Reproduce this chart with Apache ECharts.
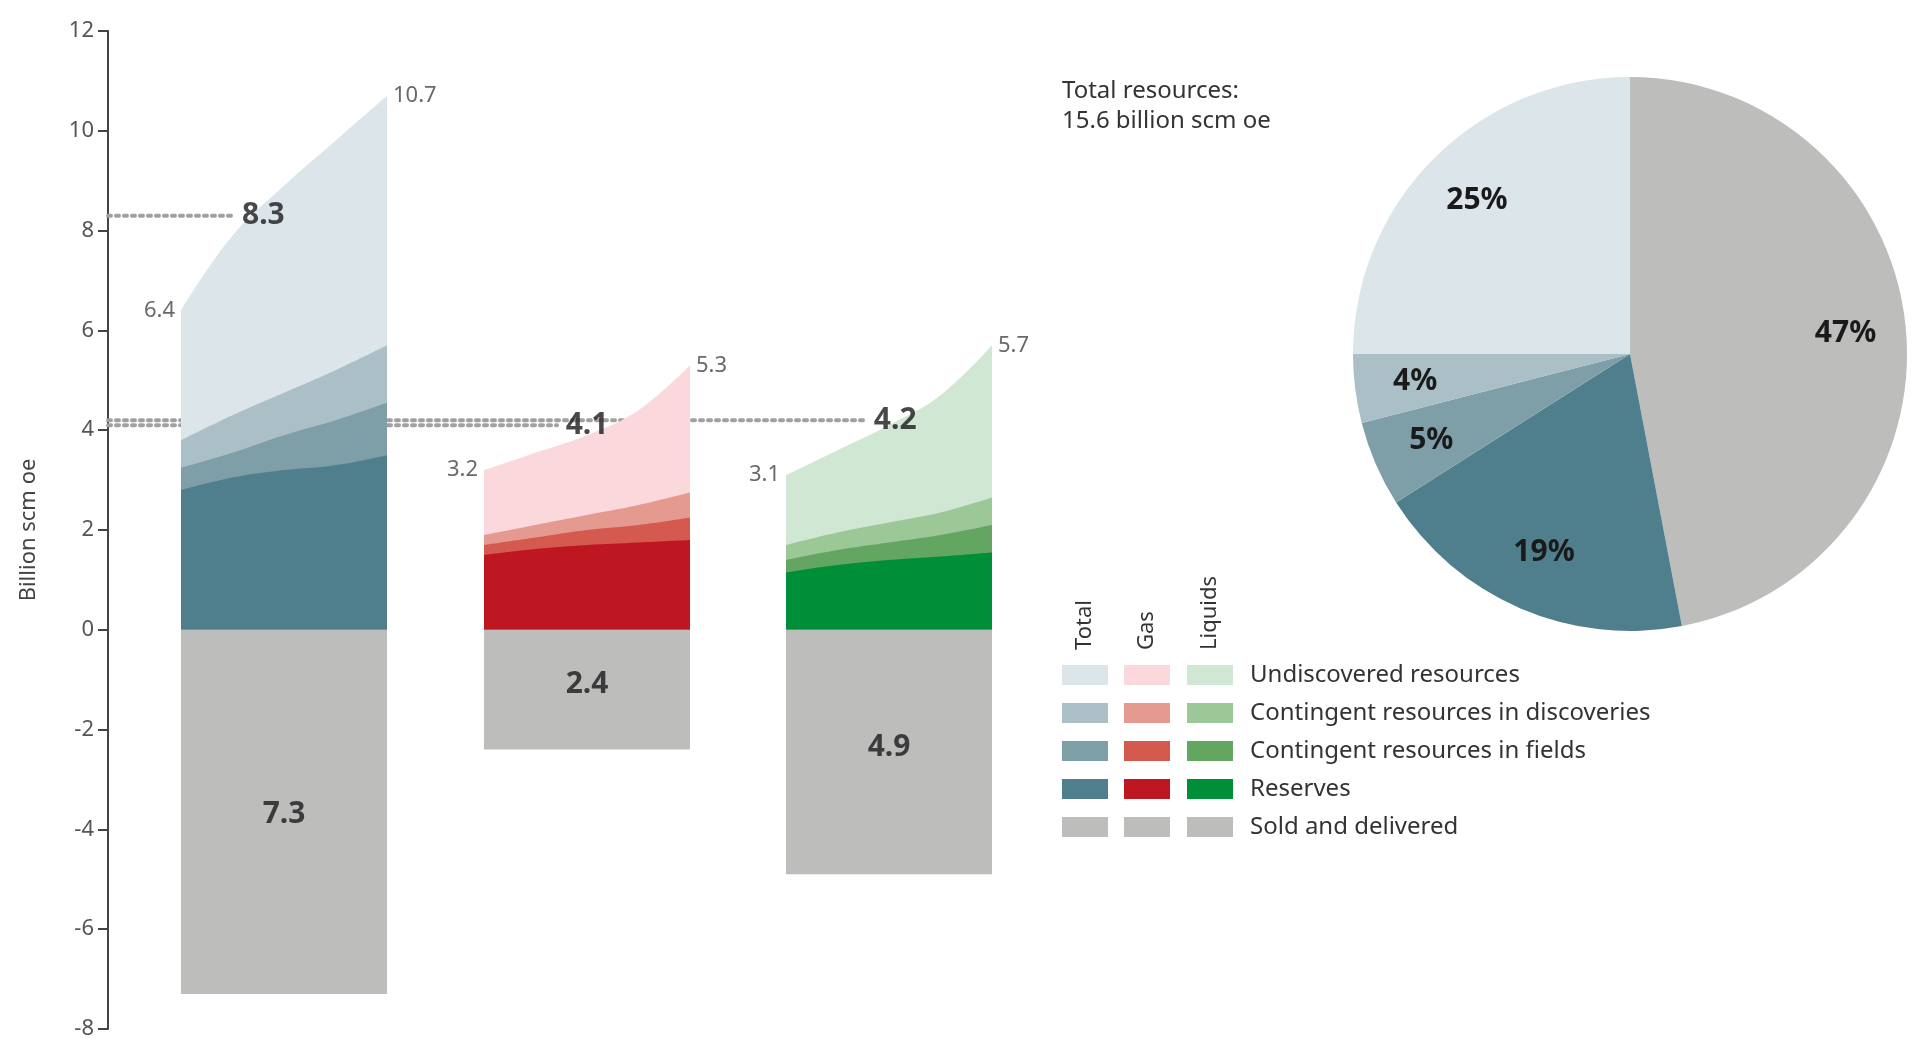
<!DOCTYPE html>
<html>
<head>
<meta charset="utf-8">
<script src="https://cdn.jsdelivr.net/npm/echarts@6/dist/echarts.min.js"></script>
<style>
  html, body { margin: 0; padding: 0; background: #fff; }
  #main { width: 1920px; height: 1056px; }
</style>
</head>
<body>
<div id="main"></div>
<script>
// ---- data ----
var groups = ['Total', 'Gas', 'Liquids'];
var layers = ['Undiscovered resources', 'Contingent resources in discoveries', 'Contingent resources in fields', 'Reserves', 'Sold and delivered'];
var steps = [0, 0.25, 0.5, 0.75, 1];
// upper boundary of each layer, left -> right
var totalUndisc = [6.4, 7.9, 8.9, 9.8, 10.7];
var totalDisc   = [3.8, 4.3, 4.75, 5.2, 5.7];
var totalFields = [3.25, 3.55, 3.9, 4.2, 4.55];
var totalRes    = [2.8, 3.05, 3.2, 3.3, 3.5];
var gasUndisc   = [3.2, 3.55, 3.9, 4.4, 5.3];
var gasDisc     = [1.9, 2.1, 2.3, 2.5, 2.75];
var gasFields   = [1.7, 1.85, 2.0, 2.1, 2.25];
var gasRes      = [1.5, 1.62, 1.7, 1.75, 1.8];
var liqUndisc   = [3.1, 3.6, 4.1, 4.7, 5.7];
var liqDisc     = [1.7, 1.95, 2.15, 2.35, 2.65];
var liqFields   = [1.4, 1.6, 1.75, 1.9, 2.1];
var liqRes      = [1.15, 1.3, 1.4, 1.47, 1.55];
var sold        = [7.3, 2.4, 4.9];
var midValues   = [8.3, 4.1, 4.2];
var piePct      = [47, 19, 5, 4, 25];
var pieNames    = ['Sold and delivered', 'Reserves', 'Contingent resources in fields', 'Contingent resources in discoveries', 'Undiscovered resources'];

var colors = [
  ['#dce5ea', '#abbfc6', '#7f9fa8', '#4f7f8c', '#bdbdbc'],
  ['#fad8db', '#e59a8f', '#d45a50', '#bf1722', '#bdbdbc'],
  ['#d0e7d4', '#9cc796', '#62a662', '#008f39', '#bdbdbc']
];
var groupLayers = [
  [totalUndisc, totalDisc, totalFields, totalRes],
  [gasUndisc, gasDisc, gasFields, gasRes],
  [liqUndisc, liqDisc, liqFields, liqRes]
];

// layout (x axis units = pixels from the y axis)
var offsets = [73, 376, 678];
var colW = 206;
var midPos = [0.4, 0.5, 0.53];
var font = '"Noto Sans", "Open Sans", sans-serif';

var series = [];
groupLayers.forEach(function (gl, g) {
  gl.forEach(function (vals, k) {
    series.push({
      type: 'line', smooth: 0.4, symbol: 'none', silent: true, z: 3,
      lineStyle: { width: 0 },
      areaStyle: { color: colors[g][k], opacity: 1 },
      data: vals.map(function (v, i) { return [offsets[g] + steps[i] * colW, v]; })
    });
  });
  // sold and delivered
  series.push({
    type: 'line', symbol: 'none', silent: true, z: 3,
    lineStyle: { width: 0 },
    areaStyle: { color: colors[g][4], opacity: 1 },
    data: [[offsets[g], -sold[g]], [offsets[g] + colW, -sold[g]]]
  });
  // labels
  series.push({
    type: 'scatter', symbolSize: 0, silent: true, z: 5,
    data: [
      { value: [offsets[g], gl[0][0]], label: { position: 'left', formatter: String(gl[0][0]) } },
      { value: [offsets[g] + colW, gl[0][4]], label: { position: 'right', formatter: String(gl[0][4]) } },
      { value: [offsets[g] + colW / 2, -sold[g] / 2 + (g === 0 ? -0.05 : 0.1)],
        label: { position: 'inside', formatter: String(sold[g]), fontSize: 30, fontWeight: 'bold', color: '#1a1a1a' } },
      { value: [offsets[g] + midPos[g] * colW, midValues[g]],
        label: { position: 'inside', formatter: String(midValues[g]), fontSize: 30, fontWeight: 'bold', color: '#1a1a1a' } }
    ],
    label: { show: true, fontSize: 22, color: '#444', fontFamily: font, distance: 6 }
  });
  // dotted guide
  series.push({
    type: 'line', symbol: 'none', silent: true, z: 2,
    lineStyle: { type: [3, 5], width: 4, color: '#a0a0a0', cap: 'round' },
    data: [[0, midValues[g]], [offsets[g] + midPos[g] * colW - 30, midValues[g]]]
  });
});

// pie
var pieColors = ['#bdbdbc', '#4f7f8c', '#7f9fa8', '#abbfc6', '#dce5ea'];
series.push({
  type: 'pie', center: [1630, 354], radius: 277, startAngle: 90, clockwise: true,
  silent: true, label: { show: false }, labelLine: { show: false },
  data: piePct.map(function (v, i) { return { value: v, name: pieNames[i], itemStyle: { color: pieColors[i] } }; })
});
series.push({
  type: 'pie', center: [1630, 354], radius: [150, 277], startAngle: 90, clockwise: true,
  silent: true, itemStyle: { color: 'rgba(0,0,0,0)' },
  label: { show: true, position: 'inside', formatter: '{c}%', fontSize: 30, fontWeight: 'bold', color: '#1a1a1a', fontFamily: font },
  data: piePct.map(function (v, i) { return { value: v, name: pieNames[i] }; })
});

// legend matrix
var graphic = [];
var legX = [1062, 1124, 1187], legY0 = 675, legDy = 38;
groups.forEach(function (name, g) {
  graphic.push({
    type: 'text', x: legX[g] + 23, y: 650, rotation: Math.PI / 2,
    style: { text: name, font: '22px ' + font, fill: '#333', textAlign: 'left', textVerticalAlign: 'middle' }
  });
  layers.forEach(function (l, k) {
    graphic.push({ type: 'rect', shape: { x: legX[g], y: legY0 + k * legDy - 10, width: 46, height: 20 }, style: { fill: colors[g][k] } });
  });
});
layers.forEach(function (l, k) {
  graphic.push({ type: 'text', x: 1250, y: legY0 + k * legDy, style: { text: l, font: '24px ' + font, fill: '#333', textVerticalAlign: 'middle' } });
});
graphic.push({ type: 'text', x: 1062, y: 76, style: { text: 'Total resources:\n15.6 billion scm oe', font: '24px ' + font, fill: '#333', lineHeight: 30 } });

var myChart = echarts.init(document.getElementById('main'));
myChart.setOption({
  animation: false,
  textStyle: { fontFamily: font },
  grid: { left: 108, right: 920, top: 31, bottom: 27 },
  xAxis: { type: 'value', min: 0, max: 892, show: false },
  yAxis: {
    type: 'value', min: -8, max: 12, interval: 2,
    name: 'Billion scm oe', nameLocation: 'middle', nameGap: 68,
    nameTextStyle: { fontSize: 22, color: '#444' },
    axisLine: { show: true, lineStyle: { color: '#444', width: 2 } },
    axisTick: { show: true, length: 10, lineStyle: { color: '#444', width: 2 } },
    axisLabel: { fontSize: 22, color: '#555', margin: 14 },
    splitLine: { show: false }
  },
  graphic: graphic,
  series: series
});
</script>
</body>
</html>
